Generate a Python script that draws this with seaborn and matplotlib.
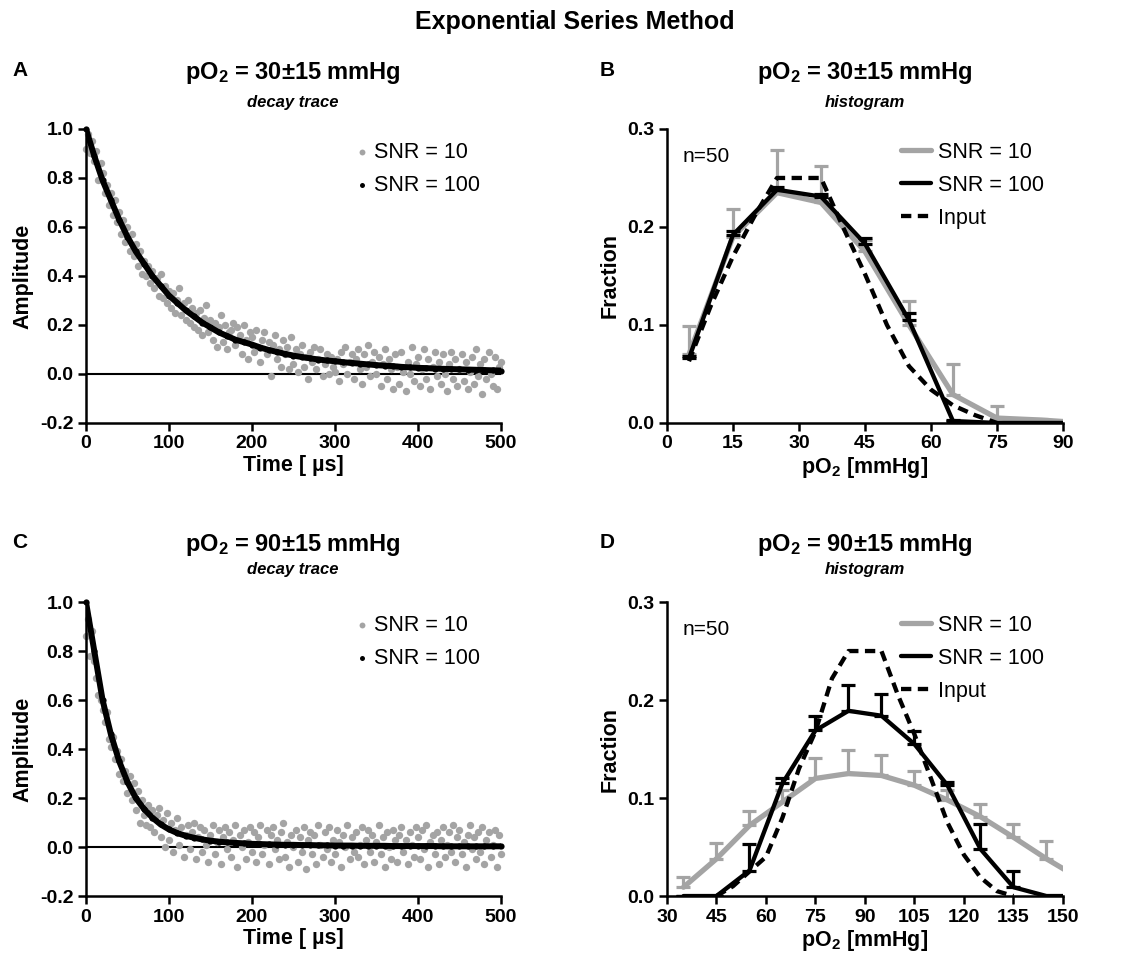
import numpy as np
import matplotlib
matplotlib.use("Agg")
import matplotlib.pyplot as plt
import seaborn as sns

# ---- decay traces (panels A and C) ----
t_snr10 = np.arange(0, 500.1, 2.5)
t_snr100 = np.arange(0, 500.1, 10)

# panel A, pO2 = 30 +/- 15 mmHg
a_snr100 = [1.0, 0.89, 0.79, 0.71, 0.63, 0.56, 0.50, 0.45, 0.40, 0.36,
            0.32, 0.29, 0.26, 0.235, 0.21, 0.19, 0.17, 0.155, 0.14, 0.13,
            0.12, 0.108, 0.098, 0.09, 0.082, 0.075, 0.069, 0.064, 0.059, 0.055,
            0.052, 0.048, 0.045, 0.042, 0.039, 0.036, 0.034, 0.032, 0.029, 0.027,
            0.025, 0.024, 0.022, 0.021, 0.020, 0.019, 0.018, 0.017, 0.016, 0.015,
            0.014]
a_snr10 = [0.92, 0.98, 0.90, 0.95, 0.87, 0.91, 0.79, 0.86, 0.82, 0.74,
           0.77, 0.69, 0.74, 0.65, 0.71, 0.62, 0.66, 0.57, 0.63, 0.54,
           0.60, 0.50, 0.57, 0.48, 0.53, 0.44, 0.50, 0.41, 0.46, 0.40,
           0.44, 0.37, 0.42, 0.35, 0.39, 0.32, 0.41, 0.31, 0.36, 0.29,
           0.34, 0.27, 0.33, 0.25, 0.30, 0.35, 0.24, 0.29, 0.22, 0.30,
           0.21, 0.27, 0.19, 0.25, 0.18, 0.26, 0.16, 0.23, 0.28, 0.17,
           0.22, 0.14, 0.21, 0.11, 0.19, 0.24, 0.13, 0.20, 0.10, 0.17,
           0.18, 0.21, 0.12, 0.19, 0.16, 0.08, 0.20, 0.14, 0.06, 0.17,
           0.15, 0.09, 0.18, 0.11, 0.05, 0.14, 0.17, 0.08, 0.13, -0.01,
           0.12, 0.16, 0.06, 0.10, 0.03, 0.14, 0.08, 0.11, 0.02, 0.15,
           0.04, 0.10, 0.01, 0.08, 0.12, 0.03, 0.07, -0.02, 0.09, 0.05,
           0.11, 0.02, 0.06, 0.10, -0.01, 0.04, 0.08, 0.00, 0.07, 0.03,
           0.01, 0.06, -0.03, 0.09, 0.04, 0.11, 0.00, 0.05, 0.08, -0.02,
           0.06, 0.10, 0.02, -0.04, 0.08, 0.03, 0.12, -0.01, 0.05, 0.09,
           0.00, 0.07, -0.05, 0.04, 0.10, -0.02, 0.06, 0.02, -0.06, 0.08,
           0.03, -0.04, 0.09, 0.01, -0.07, 0.05, 0.00, 0.11, -0.03, 0.04,
           0.07, -0.05, 0.02, 0.10, -0.02, 0.06, -0.06, 0.03, 0.09, -0.01,
           0.05, -0.04, 0.08, 0.00, -0.07, 0.04, 0.09, -0.02, 0.06, -0.05,
           0.02, 0.08, -0.03, 0.05, -0.06, 0.01, 0.07, -0.04, 0.10, -0.01,
           0.04, -0.08, 0.06, -0.02, 0.09, 0.00, -0.05, 0.07, -0.06, 0.03,
           0.05]

# panel C, pO2 = 90 +/- 15 mmHg
c_snr100 = [1.0, 0.80, 0.60, 0.46, 0.35, 0.265, 0.20, 0.155, 0.12, 0.092,
            0.072, 0.057, 0.046, 0.038, 0.031, 0.026, 0.022, 0.019, 0.017, 0.015,
            0.013, 0.012, 0.011, 0.010, 0.009, 0.009, 0.008, 0.008, 0.007, 0.007,
            0.006, 0.006, 0.006, 0.005, 0.005, 0.005, 0.005, 0.004, 0.004, 0.004,
            0.004, 0.004, 0.004, 0.003, 0.003, 0.003, 0.003, 0.003, 0.003, 0.003,
            0.003]
c_snr10 = [0.86, 0.93, 0.78, 0.88, 0.76, 0.69, 0.62, 0.60, 0.56, 0.51,
           0.55, 0.44, 0.41, 0.45, 0.36, 0.39, 0.30, 0.36, 0.27, 0.31,
           0.22, 0.29, 0.19, 0.26, 0.15, 0.23, 0.10, 0.19, 0.13, 0.09,
           0.17, 0.08, 0.15, 0.06, 0.13, 0.16, 0.04, 0.11, 0.00, 0.14,
           0.03, 0.10, -0.02, 0.07, 0.12, 0.01, 0.08, -0.04, 0.05, 0.09,
           -0.01, 0.06, 0.10, -0.05, 0.04, 0.08, -0.02, 0.07, 0.01, -0.06,
           0.05, 0.09, -0.03, 0.02, 0.07, -0.07, 0.04, 0.08, -0.01, 0.06,
           -0.04, 0.03, 0.09, -0.08, 0.05, 0.00, 0.07, -0.05, 0.02, 0.08,
           -0.02, 0.06, -0.06, 0.04, 0.09, -0.03, 0.01, 0.07, -0.07, 0.05,
           0.08, -0.01, 0.03, -0.05, 0.06, 0.10, -0.04, 0.02, -0.08, 0.05,
           0.00, 0.07, -0.06, 0.04, -0.02, 0.08, -0.09, 0.03, 0.06, -0.03,
           0.05, -0.07, 0.09, 0.01, -0.04, 0.06, -0.01, 0.08, -0.06, 0.03,
           -0.03, 0.07, 0.02, -0.08, 0.05, 0.00, 0.09, -0.05, 0.04, -0.02,
           0.06, -0.04, 0.01, 0.08, -0.07, 0.03, 0.07, -0.02, 0.05, -0.06,
           0.02, 0.09, -0.03, 0.04, -0.08, 0.06, 0.00, -0.05, 0.07, 0.03,
           -0.06, 0.05, 0.08, -0.02, 0.03, -0.07, 0.06, 0.01, -0.04, 0.08,
           0.04, -0.05, 0.07, -0.01, 0.09, -0.08, 0.02, 0.05, -0.03, 0.06,
           -0.07, 0.03, 0.08, -0.04, 0.01, 0.06, -0.02, 0.09, -0.06, 0.04,
           0.07, -0.03, 0.02, -0.08, 0.05, 0.09, -0.01, 0.04, -0.05, 0.06,
           -0.02, 0.08, -0.07, 0.03, 0.06, -0.04, 0.01, 0.07, -0.08, 0.05,
           -0.03]

# ---- histograms (panels B and D) ----
b_bins = [5, 15, 25, 35, 45, 55, 65, 75, 85, 95]
b_snr10 = [0.070, 0.190, 0.235, 0.225, 0.175, 0.100, 0.029, 0.005, 0.003, 0.0]
b_snr10_sd = [0.029, 0.028, 0.044, 0.037, 0.012, 0.024, 0.031, 0.012, 0.001, 0.0]
b_snr100 = [0.066, 0.192, 0.238, 0.231, 0.183, 0.105, 0.002, 0.0, 0.0, 0.0]
b_snr100_sd = [0.002, 0.004, 0.003, 0.003, 0.006, 0.007, 0.001, 0.0, 0.0, 0.0]
b_input_x = [5, 10, 15, 20, 25, 30, 35, 40, 45, 50, 55, 60, 65, 70, 75]
b_input = [0.063, 0.12, 0.17, 0.212, 0.25, 0.25, 0.25, 0.20, 0.152, 0.10,
           0.058, 0.034, 0.018, 0.008, 0.0]

d_bins = [35, 45, 55, 65, 75, 85, 95, 105, 115, 125, 135, 145, 155]
d_snr10 = [0.009, 0.038, 0.072, 0.096, 0.120, 0.125, 0.123, 0.113, 0.098,
           0.081, 0.060, 0.038, 0.018]
d_snr10_sd = [0.010, 0.016, 0.015, 0.012, 0.021, 0.024, 0.021, 0.015, 0.010,
              0.013, 0.014, 0.018, 0.0]
d_snr100 = [0.0, 0.0, 0.026, 0.115, 0.169, 0.189, 0.184, 0.155, 0.113, 0.048,
            0.009, 0.0, 0.0]
d_snr100_sd = [0.0, 0.0, 0.027, 0.005, 0.015, 0.026, 0.022, 0.013, 0.003, 0.026,
               0.017, 0.0, 0.0]
d_input_x = [45, 50, 55, 60, 65, 70, 75, 80, 85, 90, 95, 100, 105, 110, 115,
             120, 125, 130, 135]
d_input = [0.0, 0.01, 0.025, 0.04, 0.08, 0.13, 0.168, 0.222, 0.25, 0.25, 0.25,
           0.205, 0.165, 0.12, 0.075, 0.042, 0.019, 0.005, 0.0]

GRAY = '#a4a4a4'

sns.set_style("ticks")
plt.rcParams['font.family'] = ['Liberation Sans', 'DejaVu Sans']
plt.rcParams['mathtext.fontset'] = 'custom'
plt.rcParams['mathtext.rm'] = 'Liberation Sans'
plt.rcParams['mathtext.bf'] = 'Liberation Sans:bold'
plt.rcParams['mathtext.default'] = 'bf'
plt.rcParams['text.color'] = 'black'
plt.rcParams['axes.labelcolor'] = 'black'
plt.rcParams['axes.edgecolor'] = 'black'
plt.rcParams['xtick.color'] = 'black'
plt.rcParams['ytick.color'] = 'black'
plt.rcParams['axes.linewidth'] = 1.8
plt.rcParams['xtick.major.width'] = 1.8
plt.rcParams['ytick.major.width'] = 1.8
plt.rcParams['xtick.major.size'] = 6
plt.rcParams['ytick.major.size'] = 6

fig = plt.figure(figsize=(11.48, 9.69), dpi=100)
ax_a = fig.add_axes([0.0749, 0.5635, 0.3615, 0.3034])
ax_b = fig.add_axes([0.5810, 0.5635, 0.3449, 0.3034])
ax_c = fig.add_axes([0.0749, 0.0753, 0.3615, 0.3034])
ax_d = fig.add_axes([0.5810, 0.0753, 0.3449, 0.3034])


def style_axis(ax, xlabel, ylabel):
    sns.despine(ax=ax)
    ax.set_xlabel(xlabel, fontsize=15.5, fontweight='bold', labelpad=2)
    ax.set_ylabel(ylabel, fontsize=15.5, fontweight='bold', labelpad=5)
    for lab in ax.get_xticklabels() + ax.get_yticklabels():
        lab.set_fontweight('bold')
        lab.set_fontsize(14)
    ax.tick_params(pad=3)


def draw_trace(ax, y10, y100):
    ax.axhline(0, color='black', lw=1.5, zorder=1)
    sns.scatterplot(x=t_snr10, y=y10, color=GRAY, s=28, linewidth=0,
                    label='SNR = 10', ax=ax, zorder=2, clip_on=False)
    sns.lineplot(x=t_snr100, y=y100, color='black', lw=4.3, ax=ax, zorder=3)
    sns.scatterplot(x=t_snr100, y=y100, color='black', s=20, linewidth=0,
                    label='SNR = 100', ax=ax, zorder=4, clip_on=False)
    ax.set_xlim(0, 500)
    ax.set_ylim(-0.2, 1.0)
    ax.set_xticks([0, 100, 200, 300, 400, 500])
    ax.set_yticks([-0.2, 0.0, 0.2, 0.4, 0.6, 0.8, 1.0])
    ax.set_yticklabels(['-0.2', '0.0', '0.2', '0.4', '0.6', '0.8', '1.0'])
    ax.legend(loc='upper right', bbox_to_anchor=(0.98, 1.0), frameon=False,
              fontsize=15.5, handlelength=0.6, handletextpad=0.25,
              labelspacing=0.55, borderaxespad=0.2, markerscale=0.8)
    style_axis(ax, 'Time [ \u00b5s]', 'Amplitude')


def draw_hist(ax, bins, y10, sd10, y100, sd100, xin, yin, xlim, xticks):
    ax.errorbar(bins, y10, yerr=[np.zeros(len(sd10)), sd10], fmt='none',
                ecolor=GRAY, elinewidth=2.3, capsize=5, capthick=2.3, zorder=2)
    ax.errorbar(bins, y100, yerr=[np.zeros(len(sd100)), sd100], fmt='none',
                ecolor='black', elinewidth=2.3, capsize=5, capthick=2.3, zorder=4)
    sns.lineplot(x=bins, y=y10, color=GRAY, lw=3.8, label='SNR = 10', ax=ax,
                 zorder=3)
    sns.lineplot(x=bins, y=y100, color='black', lw=3.1, label='SNR = 100', ax=ax,
                 zorder=5)
    sns.lineplot(x=xin, y=yin, color='black', lw=3.1, label='Input', ax=ax,
                 zorder=6)
    ax.lines[-1].set_linestyle((0, (2.4, 1.5)))
    ax.set_xlim(*xlim)
    ax.set_ylim(0, 0.3)
    ax.set_xticks(xticks)
    ax.set_yticks([0.0, 0.1, 0.2, 0.3])
    ax.set_yticklabels(['0.0', '0.1', '0.2', '0.3'])
    ax.text(0.04, 0.905, 'n=50', transform=ax.transAxes, fontsize=15,
            va='center', ha='left')
    leg = ax.legend(loc='upper right', bbox_to_anchor=(0.985, 1.0), frameon=False,
                    fontsize=15.5, handlelength=1.35, handletextpad=0.35,
                    labelspacing=0.55, borderaxespad=0.2)
    leg.get_lines()[2].set_linestyle((0, (2.4, 1.5)))
    style_axis(ax, r'pO$_2$ [mmHg]', 'Fraction')


draw_trace(ax_a, a_snr10, a_snr100)
draw_trace(ax_c, c_snr10, c_snr100)
draw_hist(ax_b, b_bins, b_snr10, b_snr10_sd, b_snr100, b_snr100_sd,
          b_input_x, b_input, (0, 90), [0, 15, 30, 45, 60, 75, 90])
draw_hist(ax_d, d_bins, d_snr10, d_snr10_sd, d_snr100, d_snr100_sd,
          d_input_x, d_input, (30, 150), [30, 45, 60, 75, 90, 105, 120, 135, 150])

# titles
fig.text(0.501, 0.977, 'Exponential Series Method', ha='center', va='center',
         fontsize=18, fontweight='bold')
panels = [('A', 0.0105, 0.255, 0.9247, 0.8947, '30', 'decay trace'),
          ('B', 0.5226, 0.7535, 0.9247, 0.8947, '30', 'histogram'),
          ('C', 0.0105, 0.255, 0.4375, 0.4118, '90', 'decay trace'),
          ('D', 0.5226, 0.7535, 0.4375, 0.4118, '90', 'histogram')]
for letter, lx, tx, ty, sy, center, sub in panels:
    fig.text(lx, ty + 0.003, letter, ha='left', va='center', fontsize=15,
             fontweight='bold')
    fig.text(tx, ty, r'pO$_2$ = ' + center + '\u00b115 mmHg', ha='center',
             va='center', fontsize=17, fontweight='bold')
    fig.text(tx, sy, sub, ha='center', va='center', fontsize=12,
             fontweight='bold', fontstyle='italic')

fig.savefig('out.png', dpi=100)
